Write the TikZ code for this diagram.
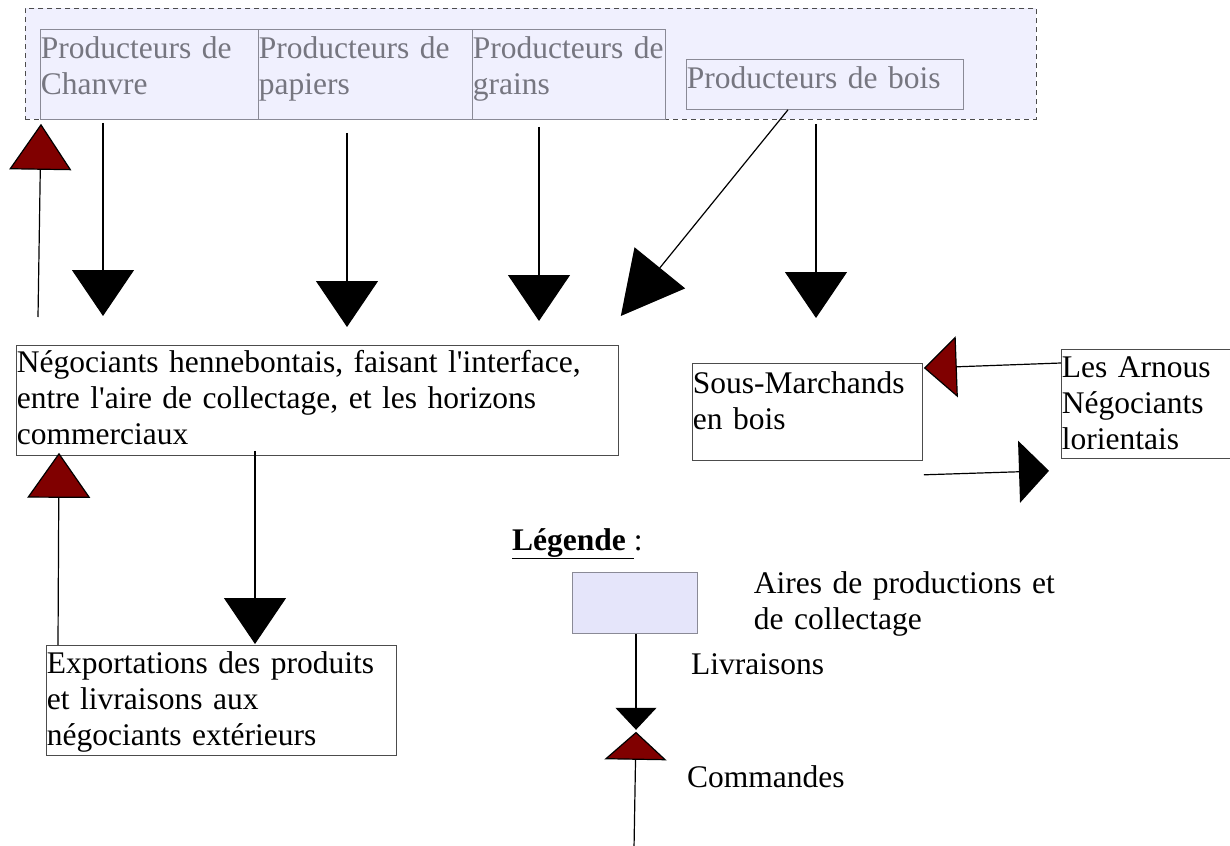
\documentclass[tikz,border=0pt]{standalone}
\usepackage{fontspec}
\setmainfont{Liberation Serif}
\usetikzlibrary{arrows.meta, positioning, calc}
\definecolor{zonefond}{RGB}{240,240,254}
\definecolor{clefond}{RGB}{229,229,250}
\definecolor{gristexte}{RGB}{118,118,128}
\definecolor{grisbord}{RGB}{138,138,150}
\definecolor{bordeaux}{RGB}{128,0,0}
\newcommand{\police}{\fontsize{31.5}{36}\selectfont\frenchspacing}

\begin{document}
\begin{tikzpicture}[
        x=1pt, y=-1pt,
        box/.style n args={3}{draw=black!70, line width=0.8pt, anchor=north west, align=left, font=\police, inner xsep=0.5pt, inner ysep=0pt, text width=#1, text height=#2, text depth=#3},
        prod/.style={draw=grisbord, text=gristexte},
        zone/.style={draw=black!70, line width=0.8pt, dash pattern=on 5pt off 4pt, fill=zonefond, anchor=north west, inner sep=0pt},
        legende/.style={font=\police, inner sep=0pt, anchor=base west},
        livraison/.style 2 args={draw=black, line width=1.2pt, -{Triangle[length=#1, width=#2]}},
        commande/.style 2 args={draw=black, line width=1.2pt, -{Triangle[length=#1, width=#2, fill=bordeaux]}}
    ]
        \path[use as bounding box, clip] (0,0) rectangle (1230,845);

        % aire de collectage
        \node[zone, minimum width=1011pt, minimum height=111pt] (zone) at (25,8) {};
        \node[box={217pt}{29pt}{61pt}, prod] (chanvre) at (40,29) {Producteurs~de\\Chanvre};
        \node[box={213pt}{29pt}{61pt}, prod] (papiers) at (258,29) {Producteurs~de\\papiers};
        \node[box={192pt}{29pt}{61pt}, prod] (grains) at (472,29) {Producteurs~de\\grains};
        \node[box={276pt}{29pt}{21pt}, prod] (bois) at (686,59) {Producteurs de bois};

        % negociants
        \node[box={601pt}{27pt}{83pt}] (nego) at (16,345) {Négociants hennebontais, faisant l\textquotesingle interface,\\entre l\textquotesingle aire de collectage, et les horizons\\commerciaux};
        \node[box={229pt}{30pt}{67pt}] (sous) at (692,363) {Sous-Marchands\\en bois};
        \node[box={180pt}{28pt}{81pt}] (arnous) at (1061,349) {Les Arnous\\Négociants\\lorientais};
        \node[box={349pt}{28pt}{82pt}] (export) at (46,645) {Exportations des produits\\et livraisons aux\\négociants extérieurs};

        % legende
        \node[legende] (titre) at (512,550) {\underline{\textbf{Légende}\ }:};
        \node[draw=grisbord, line width=0.8pt, fill=clefond, anchor=north west, minimum width=125pt, minimum height=61pt, inner sep=0pt] (cle) at (572,572) {};
        \node[box={320pt}{28pt}{44pt}, draw=none] (aires) at (753,565) {Aires de productions et\\de collectage};
        \node[legende] (livr) at (691,674) {Livraisons};
        \node[legende] (comm) at (687,787) {Commandes};
        \coordinate (pointe) at ($(cle.south west)+(64,97)$);
        \coordinate (bas) at ($(cle.south west)+(62,215)$);

        % livraisons
        \draw[livraison={46pt}{62pt}] ($(chanvre.south west)+(63,3)$) -- ($(nego.north west)+(87,-29)$);
        \draw[livraison={46pt}{62pt}] ($(papiers.south west)+(89,13)$) -- ($(nego.north west)+(331,-18)$);
        \draw[livraison={46pt}{62pt}] ($(grains.south west)+(67,7)$) -- ($(nego.north west)+(523,-24)$);
        \draw[livraison={62pt}{65pt}] ($(bois.south west)+(102,0)$) -- ($(nego.north east)+(2,-29)$);
        \draw[livraison={46pt}{62pt}] ($(bois.south west)+(130,14)$) -- ($(sous.north west)+(124,-45)$);
        \draw[livraison={30pt}{62pt}] ($(sous.south east)+(1,14)$) -- ($(arnous.south west)+(-12,12)$);
        \draw[livraison={46pt}{62pt}] ($(nego.south west)+(239,-5)$) -- ($(export.north west)+(209,-1)$);
        \draw[livraison={22pt}{41pt}] ($(cle.south west)+(64,0)$) -- ($(pointe)+(0,-1)$);

        % commandes
        \draw[commande={46pt}{62pt}] ($(nego.north west)+(22,-28)$) -- ($(chanvre.south west)+(1,4)$);
        \draw[commande={33pt}{61pt}] ($(arnous.north west)+(0,14)$) -- ($(sous.north east)+(1,5)$);
        \draw[commande={45pt}{63pt}] ($(export.north west)+(12,0)$) -- ($(nego.south west)+(43,-3)$);
        \draw[commande={28pt}{62pt}] (bas) -- ($(pointe)+(0,1)$);
    \end{tikzpicture}
\end{document}
